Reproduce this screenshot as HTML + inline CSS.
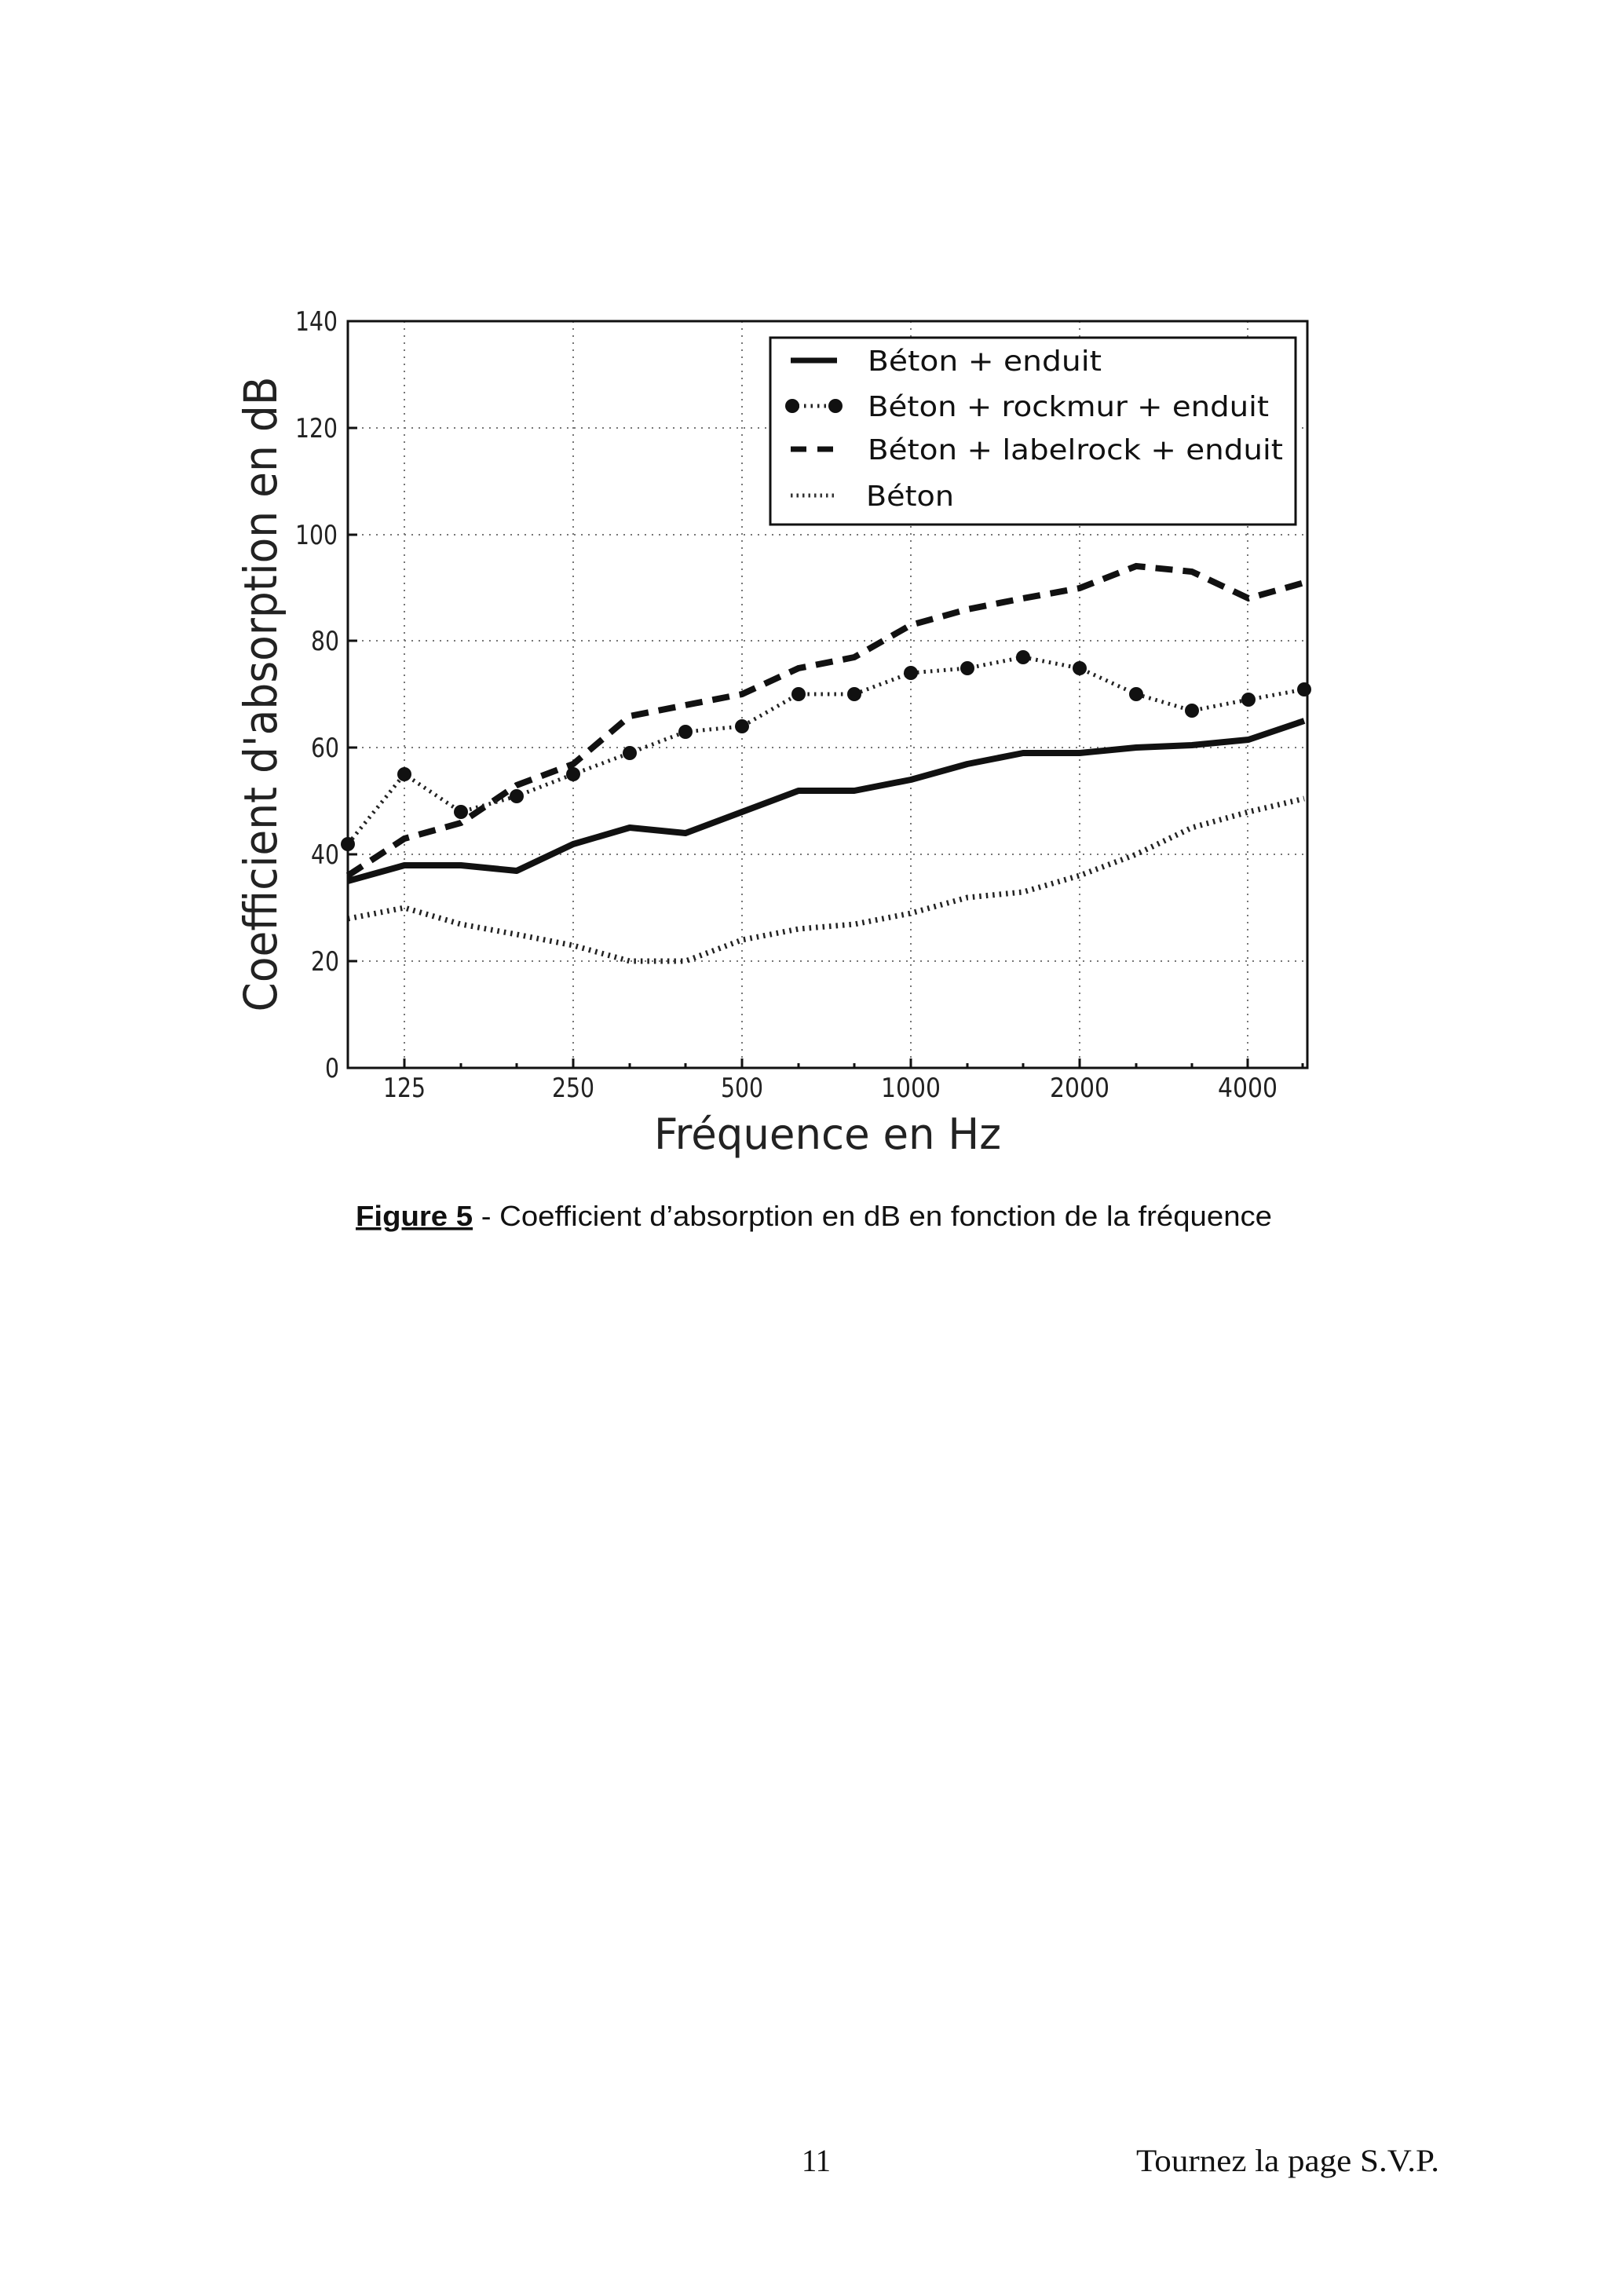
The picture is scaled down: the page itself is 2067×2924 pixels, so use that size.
<!DOCTYPE html>
<html><head><meta charset="utf-8"><style>
html,body{margin:0;padding:0;background:#fff;}
svg{display:block;}
</style></head><body>
<svg width="2067" height="2924" viewBox="0 0 2067 2924" xmlns="http://www.w3.org/2000/svg">
<rect width="2067" height="2924" fill="#fff"/>
<g stroke="#777" stroke-width="2" stroke-dasharray="2,7" fill="none">
<line x1="443" y1="1224" x2="1665" y2="1224"/>
<line x1="443" y1="1088" x2="1665" y2="1088"/>
<line x1="443" y1="952" x2="1665" y2="952"/>
<line x1="443" y1="816" x2="1665" y2="816"/>
<line x1="443" y1="681" x2="1665" y2="681"/>
<line x1="443" y1="545" x2="1665" y2="545"/>
<line x1="515" y1="409" x2="515" y2="1360"/>
<line x1="730" y1="409" x2="730" y2="1360"/>
<line x1="945" y1="409" x2="945" y2="1360"/>
<line x1="1160" y1="409" x2="1160" y2="1360"/>
<line x1="1375" y1="409" x2="1375" y2="1360"/>
<line x1="1589" y1="409" x2="1589" y2="1360"/>
</g>
<g stroke="#111" stroke-width="3">
<line x1="443" y1="1224" x2="455" y2="1224"/><line x1="443" y1="1088" x2="455" y2="1088"/><line x1="443" y1="952" x2="455" y2="952"/><line x1="443" y1="816" x2="455" y2="816"/><line x1="443" y1="681" x2="455" y2="681"/><line x1="443" y1="545" x2="455" y2="545"/>
<line x1="515" y1="1360" x2="515" y2="1348"/><line x1="730" y1="1360" x2="730" y2="1348"/><line x1="945" y1="1360" x2="945" y2="1348"/><line x1="1160" y1="1360" x2="1160" y2="1348"/><line x1="1375" y1="1360" x2="1375" y2="1348"/><line x1="1589" y1="1360" x2="1589" y2="1348"/>
<line x1="587" y1="1360" x2="587" y2="1354"/><line x1="658" y1="1360" x2="658" y2="1354"/><line x1="802" y1="1360" x2="802" y2="1354"/><line x1="873" y1="1360" x2="873" y2="1354"/><line x1="1017" y1="1360" x2="1017" y2="1354"/><line x1="1088" y1="1360" x2="1088" y2="1354"/><line x1="1232" y1="1360" x2="1232" y2="1354"/><line x1="1303" y1="1360" x2="1303" y2="1354"/><line x1="1447" y1="1360" x2="1447" y2="1354"/><line x1="1518" y1="1360" x2="1518" y2="1354"/><line x1="1659" y1="1360" x2="1659" y2="1354"/>
</g>
<polyline fill="none" stroke="#222" stroke-width="7" stroke-dasharray="2.5,6" points="443,1170 515,1156 587,1177 658,1190 730,1204 802,1224 873,1224 945,1197 1017,1183 1088,1177 1160,1163 1232,1143 1303,1136 1375,1115 1447,1088 1518,1054 1590,1034 1661,1017"/>
<polyline fill="none" stroke="#111" stroke-width="8" stroke-dasharray="22,13" points="443,1115 515,1068 587,1048 658,1000 730,973 802,912 873,898 945,884 1017,851 1088,837 1160,796 1232,776 1303,762 1375,749 1447,721 1518,728 1590,762 1661,742"/>
<polyline fill="none" stroke="#222" stroke-width="5" stroke-dasharray="2.5,6" points="443,1075 515,986 587,1034 658,1014 730,986 802,959 873,932 945,925 1017,884 1088,884 1160,857 1232,851 1303,837 1375,851 1447,884 1518,905 1590,891 1661,878"/>
<g fill="#111">
<circle cx="443" cy="1075" r="9"/><circle cx="515" cy="986" r="9"/><circle cx="587" cy="1034" r="9"/><circle cx="658" cy="1014" r="9"/><circle cx="730" cy="986" r="9"/><circle cx="802" cy="959" r="9"/><circle cx="873" cy="932" r="9"/><circle cx="945" cy="925" r="9"/><circle cx="1017" cy="884" r="9"/><circle cx="1088" cy="884" r="9"/><circle cx="1160" cy="857" r="9"/><circle cx="1232" cy="851" r="9"/><circle cx="1303" cy="837" r="9"/><circle cx="1375" cy="851" r="9"/><circle cx="1447" cy="884" r="9"/><circle cx="1518" cy="905" r="9"/><circle cx="1590" cy="891" r="9"/><circle cx="1661" cy="878" r="9"/>
</g>
<polyline fill="none" stroke="#111" stroke-width="8" stroke-linejoin="round" points="443,1122 515,1102 587,1102 658,1109 730,1075 802,1054 873,1061 945,1034 1017,1007 1088,1007 1160,993 1232,973 1303,959 1375,959 1447,952 1518,949 1590,942 1661,918"/>
<rect x="443" y="409" width="1222" height="951" fill="none" stroke="#111" stroke-width="3"/>
<rect x="981" y="430" width="669" height="238" fill="#fff" stroke="#111" stroke-width="3"/>
<line x1="1007" y1="459" x2="1066" y2="459" stroke="#111" stroke-width="7"/>
<line x1="1007" y1="517" x2="1066" y2="517" stroke="#222" stroke-width="5" stroke-dasharray="2.5,6"/>
<circle cx="1009" cy="517" r="9" fill="#111"/><circle cx="1064" cy="517" r="9" fill="#111"/>
<line x1="1007" y1="572" x2="1066" y2="572" stroke="#111" stroke-width="7" stroke-dasharray="20,14"/>
<line x1="1007" y1="631" x2="1066" y2="631" stroke="#333" stroke-width="5" stroke-dasharray="2.5,5"/>
<g font-family="DejaVu Sans, sans-serif" font-size="36" fill="#111">
<text x="1105" y="472" textLength="298" lengthAdjust="spacingAndGlyphs">Béton + enduit</text>
<text x="1105" y="530" textLength="511" lengthAdjust="spacingAndGlyphs">Béton + rockmur + enduit</text>
<text x="1105" y="585" textLength="529" lengthAdjust="spacingAndGlyphs">Béton + labelrock + enduit</text>
<text x="1103" y="644" textLength="112" lengthAdjust="spacingAndGlyphs">Béton</text>
</g>
<g font-family="DejaVu Sans, sans-serif" font-size="34" fill="#222" lengthAdjust="spacingAndGlyphs">
<text x="414" y="1372" textLength="18" lengthAdjust="spacingAndGlyphs">0</text>
<text x="396" y="1236" textLength="36" lengthAdjust="spacingAndGlyphs">20</text>
<text x="396" y="1100" textLength="36" lengthAdjust="spacingAndGlyphs">40</text>
<text x="396" y="964" textLength="36" lengthAdjust="spacingAndGlyphs">60</text>
<text x="396" y="828" textLength="36" lengthAdjust="spacingAndGlyphs">80</text>
<text x="376" y="693" textLength="54" lengthAdjust="spacingAndGlyphs">100</text>
<text x="376" y="557" textLength="54" lengthAdjust="spacingAndGlyphs">120</text>
<text x="376" y="421" textLength="54" lengthAdjust="spacingAndGlyphs">140</text>
</g>
<g font-family="DejaVu Sans, sans-serif" font-size="34" fill="#222">
<text x="488" y="1397" textLength="54" lengthAdjust="spacingAndGlyphs">125</text>
<text x="703" y="1397" textLength="54" lengthAdjust="spacingAndGlyphs">250</text>
<text x="918" y="1397" textLength="54" lengthAdjust="spacingAndGlyphs">500</text>
<text x="1122" y="1397" textLength="76" lengthAdjust="spacingAndGlyphs">1000</text>
<text x="1337" y="1397" textLength="76" lengthAdjust="spacingAndGlyphs">2000</text>
<text x="1551" y="1397" textLength="76" lengthAdjust="spacingAndGlyphs">4000</text>
</g>
<text x="833" y="1463" font-family="DejaVu Sans, sans-serif" font-size="54" fill="#222" textLength="442" lengthAdjust="spacingAndGlyphs">Fréquence en Hz</text>
<text transform="translate(352,884) rotate(-90)" font-family="DejaVu Sans, sans-serif" font-size="58" fill="#222" text-anchor="middle" textLength="809" lengthAdjust="spacingAndGlyphs">Coefficient d'absorption en dB</text>
<text x="453" y="1561" font-family="Liberation Sans, Arial, sans-serif" font-size="36" fill="#111" textLength="1167" lengthAdjust="spacingAndGlyphs"><tspan font-weight="bold" text-decoration="underline">Figure 5</tspan> - Coefficient d’absorption en dB en fonction de la fréquence</text>
<g font-family="Liberation Serif, serif" font-size="40" fill="#111">
<text x="1021" y="2765" textLength="37" lengthAdjust="spacingAndGlyphs">11</text>
<text x="1447" y="2765" textLength="386" lengthAdjust="spacingAndGlyphs">Tournez la page S.V.P.</text>
</g>
</svg>
</body></html>
